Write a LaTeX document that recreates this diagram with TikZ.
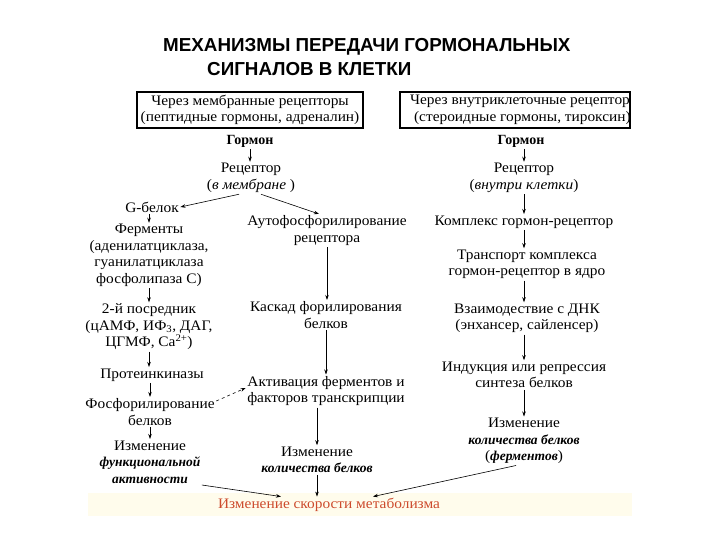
\documentclass[tikz,border=0pt]{standalone}
\usepackage{fontspec}
\setmainfont{Liberation Serif}[FakeStretch=1.06]
\newfontfamily\boldfont{Liberation Serif}[FakeStretch=1.0]
\newfontfamily\titlefont{Liberation Sans}
\usetikzlibrary{arrows.meta}
\definecolor{metred}{RGB}{205,75,45}
\definecolor{band}{RGB}{255,252,236}
\newcommand{\bit}[1]{{\boldfont\fontsize{13.5}{16.5}\selectfont\bfseries\itshape #1}}
\begin{document}
\begin{tikzpicture}[x=1pt,y=-1pt,
  txt/.style={align=center, font=\fontsize{14.5}{16.5}\selectfont, inner sep=1.5pt},
  bold/.style={font=\boldfont\fontsize{14}{16.5}\selectfont\bfseries},
  ttl/.style={anchor=west, inner sep=0pt, font=\titlefont\fontsize{18.8}{22}\selectfont\bfseries},
  arr/.style={-{Stealth[length=5pt,width=3.5pt]}, line width=0.6pt},
  box/.style={draw, line width=1.2pt, minimum height=36pt, inner sep=0pt}]
\useasboundingbox (0,0) rectangle (720,540);
\fill[band] (88,493) rectangle (632,516);

% title
\node[ttl] (t1) at (163,47) {МЕХАНИЗМЫ ПЕРЕДАЧИ ГОРМОНАЛЬНЫХ};
\node[ttl] (t2) at (207,69) {СИГНАЛОВ В КЛЕТКИ};

% boxes
\node[box, txt, minimum width=226pt] (boxL) at (250,110) {Через мембранные рецепторы\\(пептидные гормоны, адреналин)};
\node[box, minimum width=230pt] (boxR) at (515,110) {};
\begin{scope}
  \clip (boxR.south west) rectangle (boxR.north east);
  \node[txt, align=left, anchor=west] (boxRt) at ([xshift=9pt]boxR.west) {Через внутриклеточные рецепторы\\\hspace{4pt}(стероидные гормоны, тироксин)};
\end{scope}

% left column
\node[txt, bold] (hormL) at (250,141) {Гормон};
\node[txt] (recL) at (251,178) {Рецептор\\(\textit{в мембране} )};
\node[txt] (gprot) at (152,207) {G-белок};
\node[txt] (enz) at (149,255.5) {Ферменты\\(аденилатциклаза,\\гуанилатциклаза\\фосфолипаза С)};
\node[txt] (sec) at (149,327) {2-й посредник\\(цАМФ, ИФ\textsubscript{3}, ДАГ,\\ЦГМФ, Ca\textsuperscript{2+})};
\node[txt] (pk) at (152,375) {Протеинкиназы};
\node[txt] (phos) at (150,412) {Фосфорилирование\\белков};
\node[txt] (funcL) at (150,462) {Изменение\\\bit{функциональной}\\\bit{активности}};

% middle column
\node[txt] (autoph) at (327,230.5) {Аутофосфорилирование\\рецептора};
\node[txt] (casc) at (326,315) {Каскад форилирования\\белков};
\node[txt] (activ) at (326,391) {Активация ферментов и\\факторов транскрипции};
\node[txt] (qtyM) at (317,460) {Изменение\\\bit{количества белков}};
\node[txt, text=metred] (metab) at (329,505) {Изменение скорости метаболизма};

% right column
\node[txt, bold] (hormR) at (521,141) {Гормон};
\node[txt] (recR) at (524,178) {Рецептор\\(\textit{внутри клетки})};
\node[txt] (complex) at (524,222) {Комплекс гормон-рецептор};
\node[txt] (transp) at (527,264.5) {Транспорт комплекса\\гормон-рецептор в ядро};
\node[txt] (dna) at (527,318.5) {Взаимодествие с ДНК\\(энхансер, сайленсер)};
\node[txt] (induct) at (524,375) {Индукция или репрессия\\синтеза белков};
\node[txt] (qtyR) at (524,441) {Изменение\\\bit{количества белков}\\(\bit{ферментов})};

% arrows left
\draw[arr] (hormL.south) -- (recL.north -| hormL.south);
\draw[arr] ([xshift=-12pt]recL.south) -- (gprot.east);
\draw[arr] ([xshift=10pt]recL.south) -- ([xshift=-8pt]autoph.north);
\draw[arr] (gprot.south -| enz.north) -- (enz.north);
\draw[arr] (enz.south) -- (sec.north);
\draw[arr] (sec.south) -- (pk.north -| sec.south);
\draw[arr] (pk.south -| phos.north) -- (phos.north);
\draw[arr] (phos.south) -- (funcL.north);
\draw[arr, dashed] ([yshift=11pt]phos.east) -- ([yshift=3pt]activ.west);
% arrows middle
\draw[arr] (autoph.south) -- (casc.north -| autoph.south);
\draw[arr] (casc.south) -- (activ.north -| casc.south);
\draw[arr] (activ.south -| qtyM.north) -- (qtyM.north);
% arrows right
\draw[arr] (hormR.south -| recR.north) -- (recR.north);
\draw[arr] (recR.south) -- (complex.north -| recR.south);
\draw[arr] (complex.south -| recR.south) -- (transp.north -| recR.south);
\draw[arr] (transp.south -| recR.south) -- (dna.north -| recR.south);
\draw[arr] (dna.south -| recR.south) -- (induct.north -| recR.south);
\draw[arr] (induct.south) -- (qtyR.north -| induct.south);
% to metabolism
\draw[arr] (funcL.south east) -- ([xshift=-48pt]metab.north);
\draw[arr] (qtyM.south) -- (metab.north -| qtyM.south);
\draw[arr] ([xshift=-8pt]qtyR.south) -- ([xshift=44pt]metab.north);
\end{tikzpicture}
\end{document}
